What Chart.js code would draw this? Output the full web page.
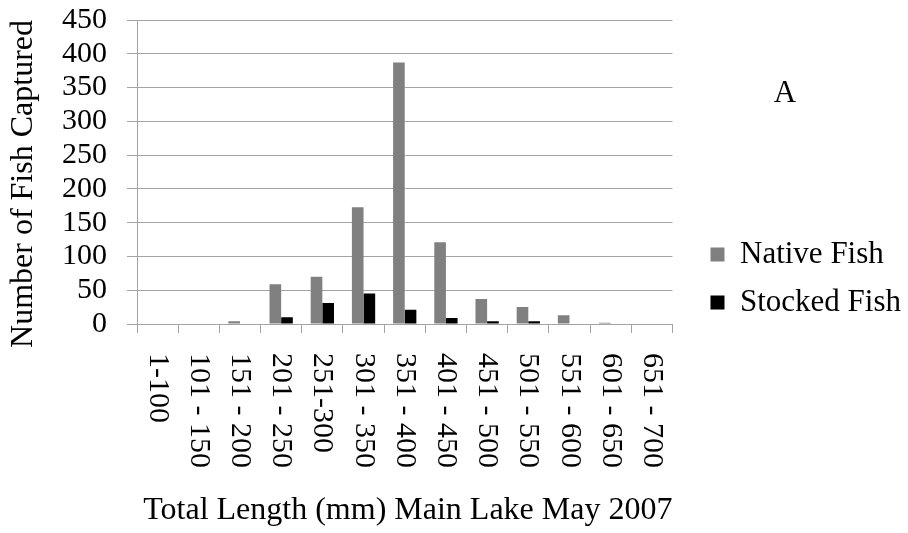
<!DOCTYPE html>
<html><head><meta charset="utf-8">
<script src="https://cdn.jsdelivr.net/npm/chart.js@4/dist/chart.umd.min.js"></script>
<style>html,body{margin:0;padding:0;background:#fff;} #wrap{width:908px;height:533px;position:relative;}</style>
</head><body><div id="wrap"><canvas id="c"></canvas></div>
<script>
const categories = ['1-100','101 - 150','151 - 200','201 - 250','251-300','301 - 350','351 - 400','401 - 450','451 - 500','501 - 550','551 - 600','601 - 650','651 - 700'];
const nativeFish  = [0, 0, 4, 59, 70, 173, 387, 121, 37, 25, 13, 2, 0];
const stockedFish = [0, 0, 0, 10, 31, 45, 21, 9, 4, 4, 0, 0, 0];
const seriesNames = ['Native Fish', 'Stocked Fish'];
const yMin = 0, yMax = 450, yStep = 50;
const xTitle = 'Total Length (mm) Main Lake May 2007';
const yTitle = 'Number of Fish Captured';
const panelLabel = 'A';

const FONT = '"Liberation Serif", "Times New Roman", serif';
const GRID = '#a3a3a3';

const xLabelPlugin = {
  id: 'xLabels',
  afterDraw(chart) {
    const s = chart.scales.x, ctx = chart.ctx;
    ctx.save();
    ctx.font = '30px ' + FONT;
    ctx.fillStyle = '#000';
    ctx.textAlign = 'left';
    ctx.textBaseline = 'middle';
    categories.forEach((lab, i) => {
      const x = s.getPixelForValue(i);
      ctx.save();
      ctx.translate(x, chart.chartArea.bottom + 29);
      ctx.rotate(Math.PI / 2);
      ctx.fillText(lab, 0, 0);
      ctx.restore();
    });
    ctx.font = '31px ' + FONT;
    ctx.textAlign = 'center';
    ctx.fillText(panelLabel, 785, 94);
    ctx.restore();
  }
};

const legendShift = {
  id: 'legendShift',
  afterLayout(chart) {
    const L = chart.legend;
    if (!L) return;
    const o = chart.options.plugins.legend.labels;
    const targetLeft = 740 - (o.padding + o.boxWidth + 31 / 2);
    const dx = targetLeft - L.left, dy = 2;
    L.left += dx; L.right += dx; L.top += dy; L.bottom += dy;
  }
};

new Chart(document.getElementById('c'), {
  type: 'bar',
  data: {
    labels: categories,
    datasets: [
      { label: seriesNames[0], data: nativeFish, backgroundColor: '#808080', borderWidth: 0 },
      { label: seriesNames[1], data: stockedFish, backgroundColor: '#000000', borderWidth: 0 }
    ]
  },
  options: {
    responsive: true,
    maintainAspectRatio: false,
    animation: false,
    layout: { padding: { top: 20, left: 0, right: 18, bottom: 0 } },
    datasets: { bar: { categoryPercentage: 0.565, barPercentage: 1.0 } },
    plugins: {
      legend: {
        position: 'right',
        labels: {
          boxWidth: 14, boxHeight: 14, padding: 17,
          color: '#000',
          font: { family: FONT, size: 31 }
        }
      },
      tooltip: { enabled: false }
    },
    scales: {
      x: {
        grid: { drawOnChartArea: false, tickLength: 9, color: GRID, offset: true },
        border: { color: GRID },
        ticks: { display: false },
        title: { display: true, text: xTitle, align: 'end', color: '#000', font: { family: FONT, size: 32 }, padding: { top: 0, bottom: 3 } },
        afterFit(scale) { scale.height = 209; }
      },
      y: {
        min: yMin, max: yMax,
        ticks: { stepSize: yStep, autoSkip: false, color: '#000', font: { family: FONT, size: 30 }, padding: 20 },
        grid: { color: GRID, tickLength: 10 },
        border: { color: GRID },
        title: { display: true, text: yTitle, align: 'end', color: '#000', font: { family: FONT, size: 32 }, padding: { top: 4, bottom: 0 } },
        afterFit(scale) { scale.width = 137; scale.paddingTop = 0; scale.paddingBottom = 0; }
      }
    }
  },
  plugins: [xLabelPlugin, legendShift]
});
</script>
</body></html>
